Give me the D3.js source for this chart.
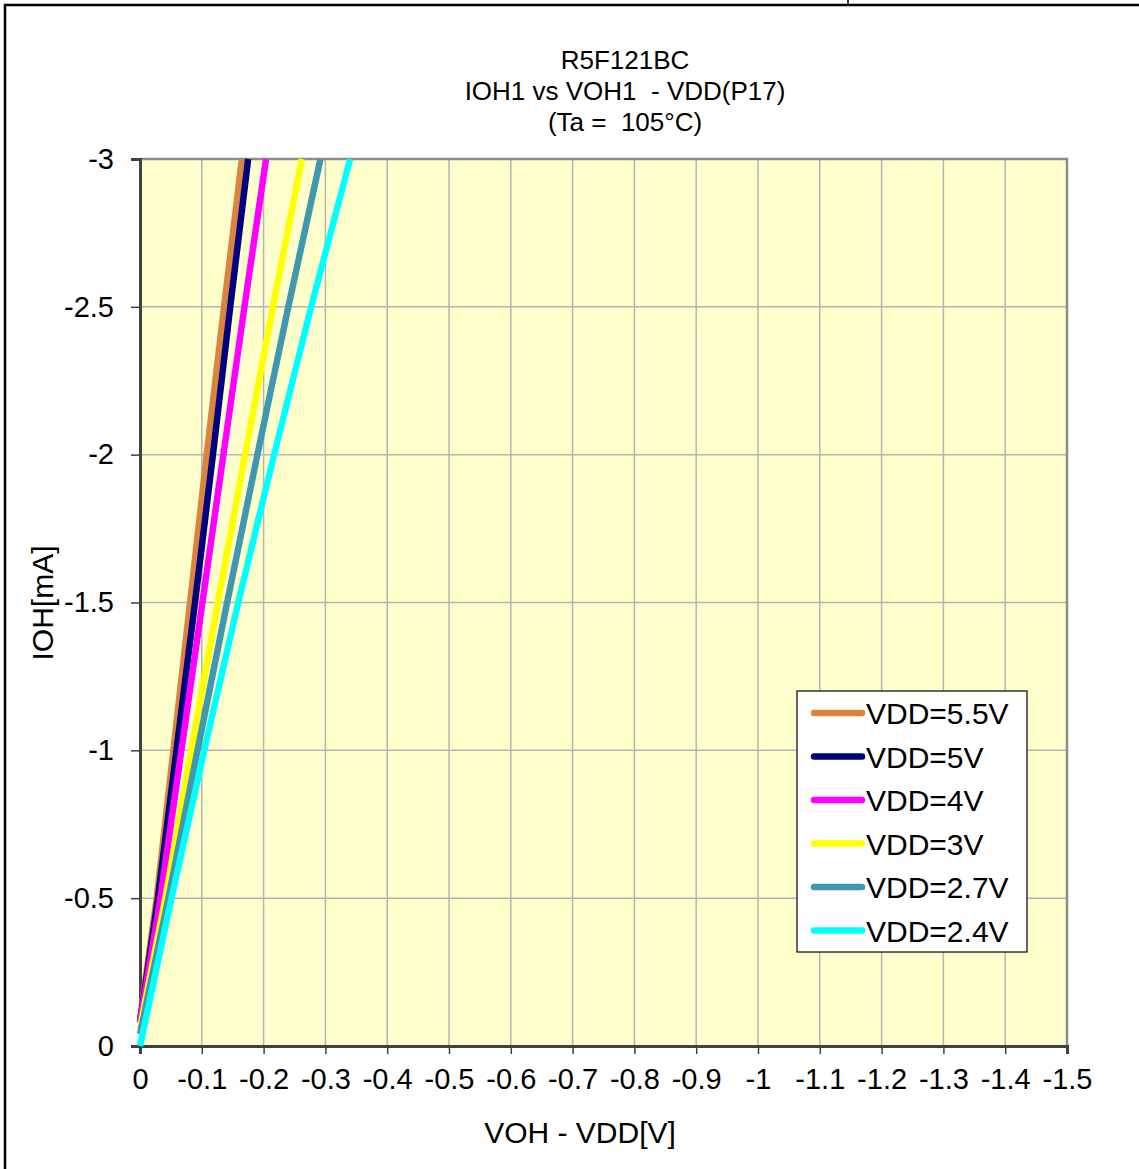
<!DOCTYPE html>
<html>
<head>
<meta charset="utf-8">
<script src="https://cdn.jsdelivr.net/npm/d3@7"></script>
<style>
  body { margin: 0; background: white; }
  text { font-family: Arial, "Liberation Sans", sans-serif; fill: black; }
</style>
</head>
<body>
<div id="graph"></div>
<script>
// series names + colours
const seriesNames = ["VDD=5.5V", "VDD=5V", "VDD=4V", "VDD=3V", "VDD=2.7V", "VDD=2.4V"];
const seriesColors = ["#DB843D", "#000080", "#FF00FF", "#FFFF00", "#4097B0", "#00FFFF"];

// IOH[mA] at each sample
const ioh = [0, -0.5, -1, -1.5, -2, -2.5, -3];

// VOH - VDD[V]
const vdd55 = [0, -0.027, -0.054, -0.081, -0.108, -0.136, -0.165];
const vdd5 = [0, -0.029, -0.059, -0.089, -0.118, -0.146, -0.175];
const vdd4 = [0, -0.033, -0.067, -0.101, -0.135, -0.169, -0.204];
const vdd3 = [0, -0.041, -0.083, -0.126, -0.170, -0.215, -0.262];
const vdd27 = [0, -0.046, -0.093, -0.141, -0.190, -0.240, -0.292];
const vdd24 = [0, -0.051, -0.104, -0.159, -0.217, -0.277, -0.340];
// the first point of each curve sits a little above 0 mA on the y axis
const startIoh = [-0.09, -0.08, -0.08, -0.06, -0.04, 0];

const xTicks = [0, -0.1, -0.2, -0.3, -0.4, -0.5, -0.6, -0.7, -0.8, -0.9, -1, -1.1, -1.2, -1.3, -1.4, -1.5];
const yTicks = [0, -0.5, -1, -1.5, -2, -2.5, -3];
const titleLines = ["R5F121BC", "IOH1 vs VOH1  - VDD(P17)", "(Ta =  105\u00B0C)"];

const allV = [vdd55, vdd5, vdd4, vdd3, vdd27, vdd24];

let width = 1139, height = 1169;
let plotLeft = 140, plotRight = 1067, plotTop = 159, plotBottom = 1046;

var svg = d3.select("#graph")
  .append("svg")
  .attr("width", width).attr("height", height)
  .style("background", "white");

// outer frame (cut off chart border)
svg.append("path")
  .attr("d", `M5,1169 V5 H1139`)
  .attr("fill", "none")
  .attr("stroke", "black")
  .attr("stroke-width", 2.5);
svg.append("line")
  .attr("x1", 848).attr("x2", 848).attr("y1", 0).attr("y2", 5)
  .attr("stroke", "black").attr("stroke-width", 1.5);

var xScale = d3.scaleLinear().domain([0, -1.5]).range([plotLeft, plotRight]);
var yScale = d3.scaleLinear().domain([0, -3]).range([plotBottom, plotTop]);

// plot area
svg.append("rect")
  .attr("x", plotLeft).attr("y", plotTop)
  .attr("width", plotRight - plotLeft).attr("height", plotBottom - plotTop)
  .attr("fill", "#FFFFCC");

// gridlines
svg.append("g").selectAll("line").data(xTicks.slice(1))
  .enter().append("line")
  .attr("x1", d => xScale(d)).attr("x2", d => xScale(d))
  .attr("y1", plotTop).attr("y2", plotBottom)
  .attr("stroke", "#B4B4B4").attr("stroke-width", 1.5);
svg.append("g").selectAll("line").data(yTicks.slice(1))
  .enter().append("line")
  .attr("x1", plotLeft).attr("x2", plotRight)
  .attr("y1", d => yScale(d)).attr("y2", d => yScale(d))
  .attr("stroke", "#B4B4B4").attr("stroke-width", 1.5);

// top + right border
svg.append("path")
  .attr("d", `M${plotLeft},${plotTop} H${plotRight} V${plotBottom}`)
  .attr("fill", "none")
  .attr("stroke", "#8C8C8C")
  .attr("stroke-width", 2.5);

// axes
let fmt = d => String(d);
var xAxis = d3.axisBottom(xScale).tickValues(xTicks).tickSize(8).tickFormat(fmt);
var yAxis = d3.axisLeft(yScale).tickValues(yTicks).tickSize(9).tickFormat(fmt);

var gx = svg.append("g").attr("transform", `translate(0,${plotBottom})`).call(xAxis);
var gy = svg.append("g").attr("transform", `translate(${plotLeft},0)`).call(yAxis);

[gx, gy].forEach(g => {
  g.select(".domain").attr("stroke", "#404040").attr("stroke-width", 3);
  g.selectAll(".tick line").attr("stroke", "#404040").attr("stroke-width", 1.5);
  g.selectAll(".tick text")
    .style("font-family", "Arial, 'Liberation Sans', sans-serif")
    .style("font-size", "29px")
    .attr("fill", "black");
});
gx.selectAll(".tick text").attr("y", 22);
gy.selectAll(".tick text").attr("x", -26);

// curves
let line = d3.line()
  .x(d => xScale(d.v))
  .y(d => yScale(d.i));

allV.forEach((vals, k) => {
  let pts = vals.map((v, j) => ({v: v, i: j == 0 ? startIoh[k] : ioh[j]}));
  svg.append("path")
    .datum(pts)
    .attr("d", line)
    .attr("fill", "none")
    .attr("stroke", seriesColors[k])
    .attr("stroke-width", 6.5);
});

// title
svg.append("g").selectAll("text").data(titleLines)
  .enter().append("text")
  .attr("x", 625)
  .attr("y", (d, i) => 69 + i * 31)
  .attr("text-anchor", "middle")
  .style("font-size", "26px")
  .style("white-space", "pre")
  .text(d => d);

// axis titles
svg.append("text")
  .attr("x", 580).attr("y", 1143)
  .attr("text-anchor", "middle")
  .style("font-size", "30px")
  .text("VOH - VDD[V]");

svg.append("text")
  .attr("transform", "translate(53,603) rotate(-90)")
  .attr("text-anchor", "middle")
  .style("font-size", "30px")
  .text("IOH[mA]");

// legend
var legend = svg.append("g");
legend.append("rect")
  .attr("x", 797).attr("y", 691)
  .attr("width", 230).attr("height", 261)
  .attr("fill", "white")
  .attr("stroke", "black").attr("stroke-width", 1.2);

var rows = legend.selectAll("g.row").data(seriesNames)
  .enter().append("g")
  .attr("transform", (d, i) => `translate(0,${713 + i * 43.5})`);
rows.append("line")
  .attr("x1", 814).attr("x2", 862)
  .attr("stroke", (d, i) => seriesColors[i])
  .attr("stroke-width", 6.5)
  .attr("stroke-linecap", "round");
rows.append("text")
  .attr("x", 866).attr("y", 11)
  .style("font-size", "30px")
  .text(d => d);
</script>
</body>
</html>
